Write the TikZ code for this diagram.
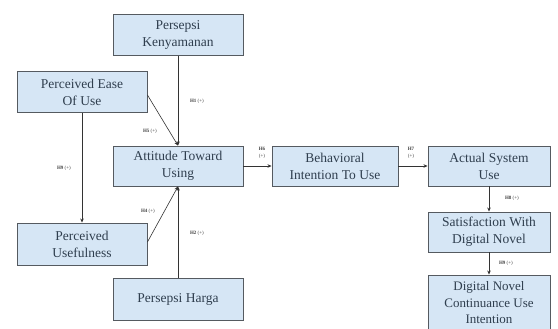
\documentclass[tikz,border=0pt]{standalone}
\usepackage{fontspec}
\setmainfont{Liberation Serif}
\usetikzlibrary{arrows.meta}
\definecolor{boxfill}{HTML}{D6E6F5}
\definecolor{boxline}{HTML}{555A60}
\definecolor{boxtext}{HTML}{2F3E4E}
\tikzset{
  box/.style={draw=boxline, line width=0.9pt, fill=boxfill, text=boxtext,
    minimum width=130pt, align=center, font=\fontsize{13.5}{17}\selectfont, inner sep=1pt},
  conn/.style={draw=black!80, line width=0.6pt, -{Stealth[length=4pt,width=3.5pt]}},
  hlab/.style={font=\fontsize{5}{5.5}\selectfont, text=black!75, inner sep=0pt}
}
\begin{document}
\begin{tikzpicture}[x=1pt,y=-1pt]
\useasboundingbox (0,0) rectangle (558,329);
\node[box, minimum height=41pt] (pk) at (178,35) {Persepsi\\Kenyamanan};
\node[box, minimum height=41pt] (peou) at (82,92) {Perceived Ease\\Of Use};
\node[box, minimum height=40pt] (atu) at (178,166) {Attitude Toward\\Using};
\node[box, minimum height=40pt, minimum width=126pt] (bi) at (335,166) {Behavioral\\Intention To Use};
\node[box, minimum height=40pt, minimum width=122pt] (asu) at (489,166) {Actual System\\Use};
\node[box, minimum height=40pt, minimum width=122pt] (sat) at (489,232) {Satisfaction With\\Digital Novel};
\node[box, minimum height=56pt, minimum width=122pt, font=\fontsize{13}{16.5}\selectfont] (dn) at (489,303) {Digital Novel\\Continuance Use\\Intention};
\node[box, minimum height=42pt] (pu) at (82,244) {Perceived\\Usefulness};
\node[box, minimum height=42pt] (ph) at (178,299) {Persepsi Harga};

\draw[conn] (pk.south) -- (atu.north);
\draw[conn] (peou.east) ++(0,3) coordinate (pe1) (pe1) -- (atu.north);
\draw[conn] (peou.south) -- (pu.north);
\draw[conn] (pu.east) ++(0,-2) coordinate (pu1) (pu1) -- (atu.south);
\draw[conn] (ph.north) -- (atu.south);
\draw[conn] (atu.east) -- (bi.west);
\draw[conn] (bi.east) -- (asu.west);
\draw[conn] (asu.south) -- (sat.north);
\draw[conn] (sat.south) -- (dn.north);

\node[hlab] (h1) at (197,101) {\textbf{H1} (+)};
\node[hlab] (h5) at (150,131) {\textbf{H5} (+)};
\node[hlab] (h9a) at (64,168) {\textbf{H9} (+)};
\node[hlab] (h4) at (148,211) {\textbf{H4} (+)};
\node[hlab] (h2) at (197,233) {\textbf{H2} (+)};
\node[hlab, align=center] (h6) at (262,153) {\textbf{H6}\\[2pt](+)};
\node[hlab, align=center] (h7) at (411,153) {\textbf{H7}\\[2pt](+)};
\node[hlab] (h8) at (512,198) {\textbf{H8} (+)};
\node[hlab] (h9b) at (506,263) {\textbf{H9} (+)};
\end{tikzpicture}
\end{document}
